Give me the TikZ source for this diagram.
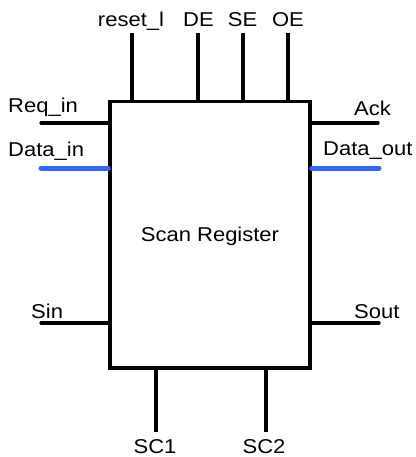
\documentclass[tikz,border=0pt]{standalone}
\usepackage{fontspec}
\setmainfont{Liberation Sans}[FakeStretch=1.1]
\definecolor{busblue}{RGB}{51,102,255}
\begin{document}
\begin{tikzpicture}[x=1pt,y=-1pt,
  lbl/.style={font=\fontsize{20}{24}\selectfont, inner sep=0pt},
  wire/.style={line width=3.3pt},
  bus/.style={line width=5pt, busblue, line cap=round},
  block/.style={draw, line width=3.3pt, minimum width=200pt, minimum height=266.5pt,
                inner sep=0pt}]
\useasboundingbox (0,0) rectangle (415,457);

% the register block
\node[block] (reg) at (210,234.75) {};
\node[lbl, anchor=base] (title) at (210,241) {Scan Register};

% control inputs on top
\coordinate (rst) at (132,33);
\coordinate (de)  at (198,33);
\coordinate (se)  at (243,33);
\coordinate (oe)  at (288,33);
\foreach \p in {rst,de,se,oe} \draw[wire] (\p) -- (\p |- reg.north);
\node[lbl, anchor=base] (lrst) at (131,27) {reset\_l};
\node[lbl, anchor=base] (lde)  at (198.5,27) {DE};
\node[lbl, anchor=base] (lse)  at (242.5,27) {SE};
\node[lbl, anchor=base] (loe)  at (288,27) {OE};

% left-hand inputs
\coordinate (req) at (41,123);
\coordinate (din) at (41,168);
\coordinate (sin) at (41,323);
\draw[wire, line cap=round] (req) -- (req -| reg.west);
\draw[bus] (din) -- (din -| reg.west);
\draw[wire, line cap=round] (sin) -- (sin -| reg.west);
\node[lbl, anchor=base west] (lreq) at (8,113) {Req\_in};
\node[lbl, anchor=base west] (ldin) at (8,157) {Data\_in};
\node[lbl, anchor=base west] (lsin) at (31,318) {Sin};

% right-hand outputs
\coordinate (ack)  at (378,123);
\coordinate (dout) at (379,168);
\coordinate (sout) at (379,323);
\draw[wire, line cap=round] (ack) -- (ack -| reg.east);
\draw[bus] (dout) -- (dout -| reg.east);
\draw[wire, line cap=round] (sout) -- (sout -| reg.east);
\node[lbl, anchor=base west] (lack)  at (354,116) {Ack};
\node[lbl, anchor=base west] (ldout) at (323,156) {Data\_out};
\node[lbl, anchor=base west] (lsout) at (354,318) {Sout};

% scan clocks at the bottom
\coordinate (sc1) at (156,432);
\coordinate (sc2) at (266,432);
\draw[wire] (sc1) -- (sc1 |- reg.south);
\draw[wire] (sc2) -- (sc2 |- reg.south);
\node[lbl, anchor=base] (lsc1) at (155,453) {SC1};
\node[lbl, anchor=base] (lsc2) at (264,453) {SC2};
\end{tikzpicture}
\end{document}
